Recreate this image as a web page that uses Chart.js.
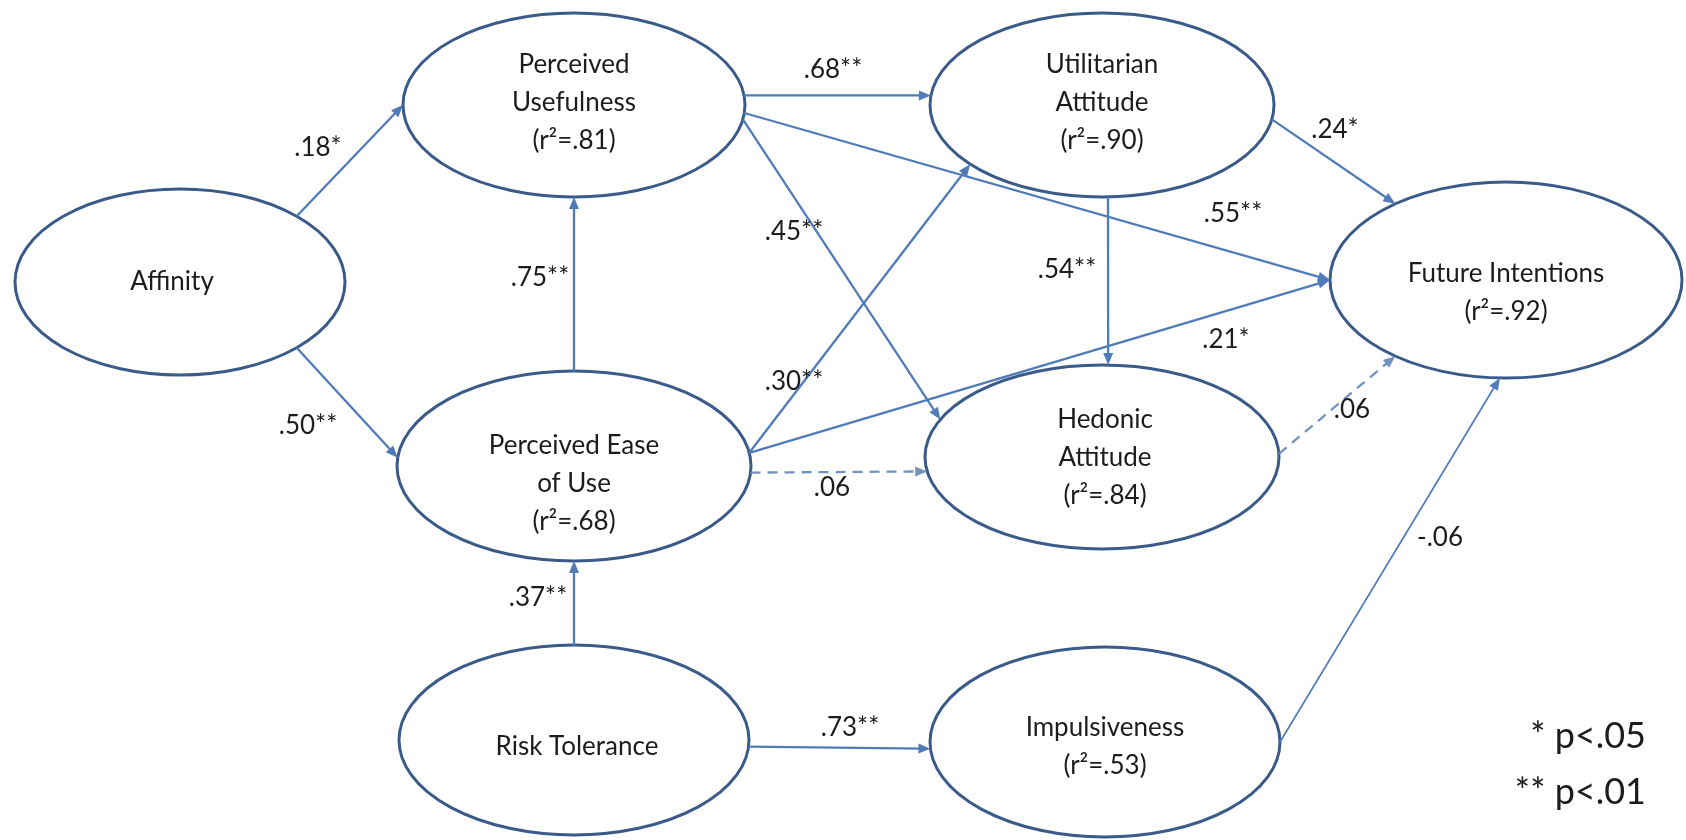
<!DOCTYPE html>
<html>
<head>
<meta charset="utf-8">
<title>Path model</title>
<script src="https://cdn.jsdelivr.net/npm/chart.js"></script>
<style>
  html, body { margin: 0; padding: 0; background: #fff; }
  #wrap { width: 1686px; height: 840px; }
</style>
</head>
<body>
<div id="wrap"><canvas id="diagram" width="1686" height="840"></canvas></div>
<script>
// constructs (centre of each ellipse, in picture units)
const nodeIds   = ['AF', 'PU', 'UA', 'FI', 'PEU', 'HA', 'RT', 'IM'];
const nodeX     = [180, 574, 1102, 1506, 574, 1102, 574, 1105];
const nodeY     = [282, 105, 105, 280, 466, 457, 740, 742];
const nodeLines = [
    ['Affinity'],
    ['Perceived', 'Usefulness', '(r\u00B2=.81)'],
    ['Utilitarian', 'Attitude', '(r\u00B2=.90)'],
    ['Future Intentions', '(r\u00B2=.92)'],
    ['Perceived Ease', 'of Use', '(r\u00B2=.68)'],
    ['Hedonic', 'Attitude', '(r\u00B2=.84)'],
    ['Risk Tolerance'],
    ['Impulsiveness', '(r\u00B2=.53)']
];

// paths between constructs
const pathFrom  = ['AF', 'AF', 'PEU', 'RT', 'PU', 'PU', 'PU', 'PEU', 'PEU', 'PEU', 'UA', 'UA', 'HA', 'RT', 'IM'];
const pathTo    = ['PU', 'PEU', 'PU', 'PEU', 'UA', 'FI', 'HA', 'UA', 'FI', 'HA', 'HA', 'FI', 'FI', 'IM', 'FI'];
const pathCoef  = [.18, .50, .75, .37, .68, .55, .45, .30, .21, .06, .54, .24, .06, .73, -.06];
const pathStars = ['*', '**', '**', '**', '**', '**', '**', '**', '*', '', '**', '*', '', '**', ''];

const legendLines = ['* p<.05', '** p<.01'];

// ---- layout / style (not data) ----
const nodeSize = { AF: [165, 93], PU: [171, 92], UA: [172, 92], FI: [176, 98],
                   PEU: [177, 95], HA: [177, 92], RT: [175, 95], IM: [175, 95] };
const textShift = { AF: [-8, 0], PU: [0, -2], UA: [0, -2], FI: [0, 13],
                    PEU: [0, 18], HA: [3, 1], RT: [3, 7], IM: [0, 5] };
// start angle on source, end angle on target (degrees, screen y down), label spot
const pathLayout = [
    { a0: -45, a1: 180, at: [318, 148] },
    { a0: 45,  a1: 185, at: [308, 426] },
    { a0: -90, a1: 90,  at: [540, 278] },
    { a0: -90, a1: 90,  at: [538, 598] },
    { a0: -6,  a1: 186, at: [833, 70] },
    { a0: 5,   a1: 180, at: [1233, 214] },
    { a0: 9,   a1: 204, at: [794, 232] },
    { a0: -8,  a1: 140, at: [794, 382] },
    { a0: -8,  a1: 180, at: [1226, 340] },
    { a0: 4,   a1: 171, at: [832, 488], dashed: true },
    { a0: 88,  a1: -88, at: [1067, 270] },
    { a0: 9,   a1: 231, at: [1335, 130] },
    { a0: -2,  a1: 129, at: [1352, 410], dashed: true },
    { a0: 4,   a1: 176, at: [850, 728] },
    { a0: 0,   a1: 92,  at: [1440, 538], thin: true }
];

const ellipseColor = '#3a5b8a';
const arrowColor = '#4f7cb8';
const dashColor = '#7193bf';
const textColor = '#1c1c1c';
const fontFamily = 'Lato, "Open Sans", sans-serif';

function fmtCoef(v, stars) {
    let s = Math.abs(v).toFixed(2).replace(/^0/, '');
    return (v < 0 ? '-' : '') + s + stars;
}

function nodeIndex(id) { return nodeIds.indexOf(id); }

// point on a node's ellipse at angle deg, in pixels
function ellipsePoint(chart, id, deg) {
    const i = nodeIndex(id);
    const sx = chart.scales.x, sy = chart.scales.y;
    const r = nodeSize[id];
    const t = deg * Math.PI / 180;
    return {
        x: sx.getPixelForValue(nodeX[i] + r[0] * Math.cos(t)),
        y: sy.getPixelForValue(nodeY[i] + r[1] * Math.sin(t))
    };
}

function drawArrowHead(ctx, p0, p1, color) {
    const ang = Math.atan2(p1.y - p0.y, p1.x - p0.x);
    const len = 12, half = 5;
    ctx.save();
    ctx.fillStyle = color;
    ctx.translate(p1.x, p1.y);
    ctx.rotate(ang);
    ctx.beginPath();
    ctx.moveTo(0, 0);
    ctx.lineTo(-len, -half);
    ctx.lineTo(-len, half);
    ctx.closePath();
    ctx.fill();
    ctx.restore();
}

const pathDiagram = {
    id: 'pathDiagram',
    afterDatasetsDraw(chart) {
        const ctx = chart.ctx;
        const sx = chart.scales.x, sy = chart.scales.y;

        // ellipses
        nodeIds.forEach((id, i) => {
            const cx = sx.getPixelForValue(nodeX[i]);
            const cy = sy.getPixelForValue(nodeY[i]);
            const rx = Math.abs(sx.getPixelForValue(nodeX[i] + nodeSize[id][0]) - cx);
            const ry = Math.abs(sy.getPixelForValue(nodeY[i] + nodeSize[id][1]) - cy);
            ctx.save();
            ctx.beginPath();
            ctx.ellipse(cx, cy, rx, ry, 0, 0, Math.PI * 2);
            ctx.fillStyle = '#fff';
            ctx.fill();
            ctx.lineWidth = 3;
            ctx.strokeStyle = ellipseColor;
            ctx.stroke();
            ctx.restore();
        });

        // paths
        pathFrom.forEach((from, k) => {
            const lay = pathLayout[k];
            const p0 = ellipsePoint(chart, from, lay.a0);
            const p1 = ellipsePoint(chart, pathTo[k], lay.a1);
            const col = lay.dashed ? dashColor : arrowColor;
            const ang = Math.atan2(p1.y - p0.y, p1.x - p0.x);
            ctx.save();
            ctx.strokeStyle = col;
            ctx.lineWidth = lay.thin ? 1.7 : 2.3;
            if (lay.dashed) ctx.setLineDash([10, 7]);
            ctx.beginPath();
            ctx.moveTo(p0.x, p0.y);
            ctx.lineTo(p1.x - 8 * Math.cos(ang), p1.y - 8 * Math.sin(ang));
            ctx.stroke();
            ctx.restore();
            drawArrowHead(ctx, p0, p1, col);
        });

        // coefficient labels
        ctx.save();
        ctx.fillStyle = textColor;
        ctx.font = '26px ' + fontFamily;
        ctx.textAlign = 'center';
        ctx.textBaseline = 'middle';
        pathCoef.forEach((v, k) => {
            const at = pathLayout[k].at;
            ctx.fillText(fmtCoef(v, pathStars[k]), sx.getPixelForValue(at[0]), sy.getPixelForValue(at[1]));
        });
        ctx.restore();

        // node text
        ctx.save();
        ctx.fillStyle = textColor;
        ctx.font = '26px ' + fontFamily;
        ctx.textAlign = 'center';
        ctx.textBaseline = 'middle';
        nodeIds.forEach((id, i) => {
            const lines = nodeLines[i];
            const step = 38;
            const sh = textShift[id];
            const top = nodeY[i] + sh[1] - (lines.length - 1) * step / 2;
            lines.forEach((ln, j) => {
                ctx.fillText(ln, sx.getPixelForValue(nodeX[i] + sh[0]), sy.getPixelForValue(top + j * step));
            });
        });
        ctx.restore();

        // significance key
        ctx.save();
        ctx.fillStyle = textColor;
        ctx.font = '36px ' + fontFamily;
        ctx.textAlign = 'right';
        ctx.textBaseline = 'middle';
        legendLines.forEach((t, j) => {
            ctx.fillText(t, sx.getPixelForValue(1646), sy.getPixelForValue(736 + j * 56));
        });
        ctx.restore();
    }
};

new Chart(document.getElementById('diagram'), {
    type: 'scatter',
    data: {
        datasets: [{
            label: 'constructs',
            data: nodeX.map((x, i) => ({ x: x, y: nodeY[i] })),
            pointRadius: 0,
            pointHoverRadius: 0
        }]
    },
    options: {
        responsive: false,
        animation: false,
        layout: { padding: 0 },
        scales: {
            x: { type: 'linear', min: 0, max: 1686, display: false },
            y: { type: 'linear', min: 0, max: 840, reverse: true, display: false }
        },
        plugins: {
            legend: { display: false },
            tooltip: { enabled: false },
            title: { display: false }
        },
        events: []
    },
    plugins: [pathDiagram]
});
</script>
</body>
</html>
